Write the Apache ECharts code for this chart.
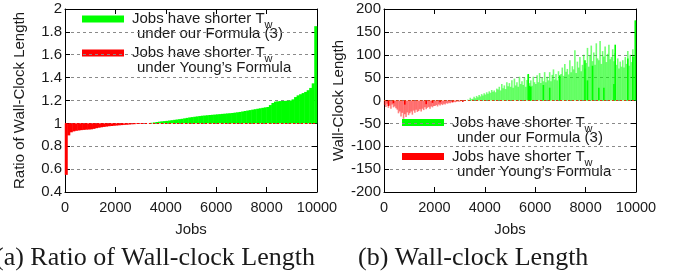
<!DOCTYPE html>
<html>
<head>
<meta charset="utf-8">
<script src="https://cdn.jsdelivr.net/npm/echarts@6/dist/echarts.min.js"></script>
<style>
  html, body { margin: 0; padding: 0; background: #fff; }
  #chart { width: 680px; height: 274px; }
</style>
</head>
<body>
<div id="chart"></div>
<script>
// jobs sorted by ratio, grouped in buckets of ratioStep jobs
var ratioStep = 100
var ratioValues = [
  0.55, 0.895, 0.922, 0.93, 0.935, 0.938, 0.941, 0.943, 0.945, 0.946,
  0.948, 0.952, 0.958, 0.962, 0.966, 0.969, 0.972, 0.975, 0.977, 0.979,
  0.981, 0.983, 0.985, 0.987, 0.988, 0.990, 0.992, 0.993, 0.995, 0.996,
  0.997, 0.998, 0.999, 1.001, 1.005, 1.008, 1.012, 1.015, 1.018, 1.020,
  1.022, 1.025, 1.028, 1.031, 1.034, 1.037, 1.040, 1.044, 1.048, 1.052,
  1.055, 1.058, 1.061, 1.064, 1.067, 1.069, 1.071, 1.073, 1.075, 1.077,
  1.079, 1.081, 1.083, 1.085, 1.087, 1.089, 1.091, 1.094, 1.097, 1.100,
  1.104, 1.108, 1.112, 1.116, 1.120, 1.124, 1.128, 1.132, 1.136, 1.140,
  1.143, 1.160, 1.178, 1.190, 1.193, 1.195, 1.196, 1.197, 1.198, 1.200,
  1.210, 1.230, 1.245, 1.255, 1.265, 1.275, 1.290, 1.310, 1.350, 1.85
]
var ratioMin = 0.4
var ratioMax = 2
var ratioInterval = 0.2
var ratioBaseline = 1

// wall-clock length difference, buckets of lengthStep jobs
var lengthStep = 50
var lengthValues = [
  -10, -14, -7, -16, -11, -18, -9, -15, -13, -17,
  -20, -28, -24, -35, -27, -40, -30, -36, -26, -32,
  -28, -24, -31, -22, -27, -20, -25, -23, -19, -24,
  -18, -21, -15, -19, -16, -14, -18, -13, -15, -12,
  -12, -10, -13, -9, -11, -8, -10, -7, -9, -6,
  -7, -5, -6, -4, -5, -3, -4, -3, -2, -3,
  -2, -1, -2, -1, -1, 0, 2, 1, 6, 3,
  4, 8, 5, 10, 7, 12, 9, 14, 11, 16,
  13, 18, 15, 20, 17, 23, 19, 22, 18, 26,
  24, 30, 22, 36, 27, 33, 25, 40, 31, 38,
  30, 44, 28, 48, 33, 40, 30, 52, 36, 42,
  34, 50, 30, 45, 56, 38, 44, 32, 52, 40,
  36, 55, 40, 60, 38, 50, 42, 62, 40, 52,
  44, 62, 42, 56, 68, 46, 58, 44, 64, 50,
  58, 72, 54, 80, 63, 69, 57, 88, 62, 75,
  68, 110, 60, 85, 72, 95, 64, 78, 100, 70,
  82, 115, 74, 98, 120, 86, 105, 78, 125, 92,
  88, 130, 80, 108, 96, 118, 84, 102, 122, 90,
  95, 112, 86, 104, 78, 92, 70, 85, 74, 88,
  72, 95, 80, 108, 76, 100, 84, 112, 96, 175
]
// single jobs drawn in full colour
var lengthGreenSolid = [
  [5725, 58], [5775, 32], [5825, 30], [6325, 34], [6575, 28], [6975, 55],
  [7975, 88], [8075, 44], [8275, 76], [8525, 28], [8725, 28], [9125, 36],
  [9175, 122], [9675, 92], [9875, 96], [9975, 175]
]
var lengthRedSolid = [
  [175, -12], [375, -6], [825, -9], [1675, -8], [1925, -5], [2225, -4], [2725, -3], [3125, -3]
]

var jobsMax = 10000
var jobsInterval = 2000

var legendTop = 'Jobs have shorter T'
var legendSub = 'w'
var legendGreen = 'under our Formula (3)'
var legendRed = 'under Young\u2019s Formula'

var font = 'Liberation Sans'
var ink = '#1a1a1a'
var green = '#00ff00'
var red = '#ff0000'

// ratio bars hang from 1: drawn as (v - 1) on a hidden axis shifted by 1
var ratioRed = []
var ratioGreen = []
ratioValues.forEach(function(v, i) {
  var x = i * ratioStep + ratioStep / 2
  var d = +(v - ratioBaseline).toFixed(4)
  ratioRed.push([x, d < 0 ? d : 0])
  ratioGreen.push([x, d > 0 ? d : 0])
})

var lengthNeg = []
var lengthPos = []
lengthValues.forEach(function(v, i) {
  var x = i * lengthStep + lengthStep / 2
  lengthNeg.push([x, v < 0 ? v : 0])
  lengthPos.push([x, v > 0 ? v : 0])
})

function xAxisOf(gridIndex, top) {
  return {
    type: 'value',
    gridIndex: gridIndex,
    position: top ? 'top' : 'bottom',
    min: 0,
    max: jobsMax,
    interval: jobsInterval,
    name: top ? '' : 'Jobs',
    nameLocation: 'middle',
    nameGap: 30,
    nameTextStyle: { fontFamily: font, fontSize: 15, color: ink },
    axisLine: { show: true, onZero: false, lineStyle: { color: '#000', width: 1 } },
    axisTick: { show: true, inside: true, length: 5, lineStyle: { color: '#000' } },
    axisLabel: {
      show: !top, margin: 8, fontFamily: font, fontSize: 14.5, color: ink,
      formatter: function(v) { return String(v) }
    },
    splitLine: { show: false }
  }
}

function yAxisOf(gridIndex, right, min, max, interval, name) {
  return {
    type: 'value',
    gridIndex: gridIndex,
    position: right ? 'right' : 'left',
    min: min,
    max: max,
    interval: interval,
    name: right ? '' : name,
    nameLocation: 'middle',
    nameGap: 38,
    nameTextStyle: { fontFamily: font, fontSize: 15, color: ink },
    axisLine: { show: true, onZero: false, lineStyle: { color: '#000', width: 1 } },
    axisTick: { show: true, inside: true, length: 5, lineStyle: { color: '#000' } },
    axisLabel: {
      show: !right, margin: 3, fontFamily: font, fontSize: 15, color: ink,
      formatter: function(v) { return String(+v.toFixed(2)) }
    },
    splitLine: {
      show: !right,
      lineStyle: { color: '#8a8a8a', type: [3, 3], width: 1 }
    }
  }
}

function legendBlock(x, cy, color, line2) {
  return [
    {
      type: 'rect',
      shape: { x: x, y: cy - 3.5, width: 42, height: 7 },
      style: { fill: color }
    },
    {
      type: 'text',
      x: x + 50,
      y: cy + 0.5,
      style: {
        text: '{a|' + legendTop + '}{b|' + legendSub + '}',
        verticalAlign: 'middle',
        rich: {
          a: { fontFamily: font, fontSize: 15, fill: ink, lineHeight: 16, verticalAlign: 'top' },
          b: { fontFamily: font, fontSize: 11, fill: ink, lineHeight: 11, padding: [8, 0, 0, 0], verticalAlign: 'top' }
        }
      }
    },
    {
      type: 'text',
      x: x + 55,
      y: cy + 15,
      style: { text: line2, font: '15px ' + font, fill: ink, verticalAlign: 'middle' }
    }
  ]
}

var chart = echarts.init(document.getElementById('chart'))

chart.setOption({
  animation: false,
  backgroundColor: '#fff',
  grid: [
    { left: 65, top: 9, width: 252, height: 183, outerBoundsMode: 'none' },
    { left: 384, top: 9, width: 252, height: 183, outerBoundsMode: 'none' }
  ],
  xAxis: [xAxisOf(0, false), xAxisOf(0, true), xAxisOf(1, false), xAxisOf(1, true)],
  yAxis: [
    yAxisOf(0, false, ratioMin, ratioMax, ratioInterval, 'Ratio of Wall-Clock Length'),
    yAxisOf(0, true, ratioMin, ratioMax, ratioInterval),
    yAxisOf(1, false, -200, 200, 50, 'Wall-Clock Length'),
    yAxisOf(1, true, -200, 200, 50),
    {
      type: 'value', gridIndex: 0, show: false,
      min: ratioMin - ratioBaseline, max: ratioMax - ratioBaseline
    }
  ],
  series: [
    {
      type: 'bar', xAxisIndex: 0, yAxisIndex: 4, barWidth: 3, barGap: '-100%',
      data: ratioRed, itemStyle: { color: red },
      markLine: {
        silent: true, symbol: 'none', label: { show: false },
        lineStyle: { color: red, type: [2, 2], width: 1 },
        data: [{ yAxis: 0 }]
      }
    },
    {
      type: 'bar', xAxisIndex: 0, yAxisIndex: 4, barWidth: 3, barGap: '-100%',
      data: ratioGreen, itemStyle: { color: green }
    },
    {
      type: 'bar', xAxisIndex: 2, yAxisIndex: 2, barWidth: 1.6, barGap: '-100%',
      data: lengthNeg, itemStyle: { color: 'rgba(255,0,0,0.5)' }
    },
    {
      type: 'bar', xAxisIndex: 2, yAxisIndex: 2, barWidth: 1.6, barGap: '-100%',
      data: lengthPos, itemStyle: { color: 'rgba(0,255,0,0.55)' },
      markLine: {
        silent: true, symbol: 'none', label: { show: false },
        lineStyle: { color: '#d84010', type: [2, 2], width: 1 },
        data: [{ yAxis: 0 }]
      }
    },
    {
      type: 'bar', xAxisIndex: 2, yAxisIndex: 2, barWidth: 1.6, barGap: '-100%',
      data: lengthRedSolid, itemStyle: { color: red }
    },
    {
      type: 'bar', xAxisIndex: 2, yAxisIndex: 2, barWidth: 1.6, barGap: '-100%',
      data: lengthGreenSolid, itemStyle: { color: green }
    }
  ],
  graphic: [].concat(
    legendBlock(82, 19, green, legendGreen),
    legendBlock(82, 53, red, legendRed),
    legendBlock(402, 122.5, green, legendGreen),
    legendBlock(402, 156.5, red, legendRed),
    [
      {
        type: 'text', x: -5, y: 258.5,
        style: { text: '(a) Ratio of Wall-clock Length', font: '26px Liberation Serif', fill: ink, verticalAlign: 'middle' }
      },
      {
        type: 'text', x: 358, y: 258.5,
        style: { text: '(b) Wall-clock Length', font: '26px Liberation Serif', fill: ink, verticalAlign: 'middle' }
      }
    ]
  )
})
</script>
</body>
</html>
